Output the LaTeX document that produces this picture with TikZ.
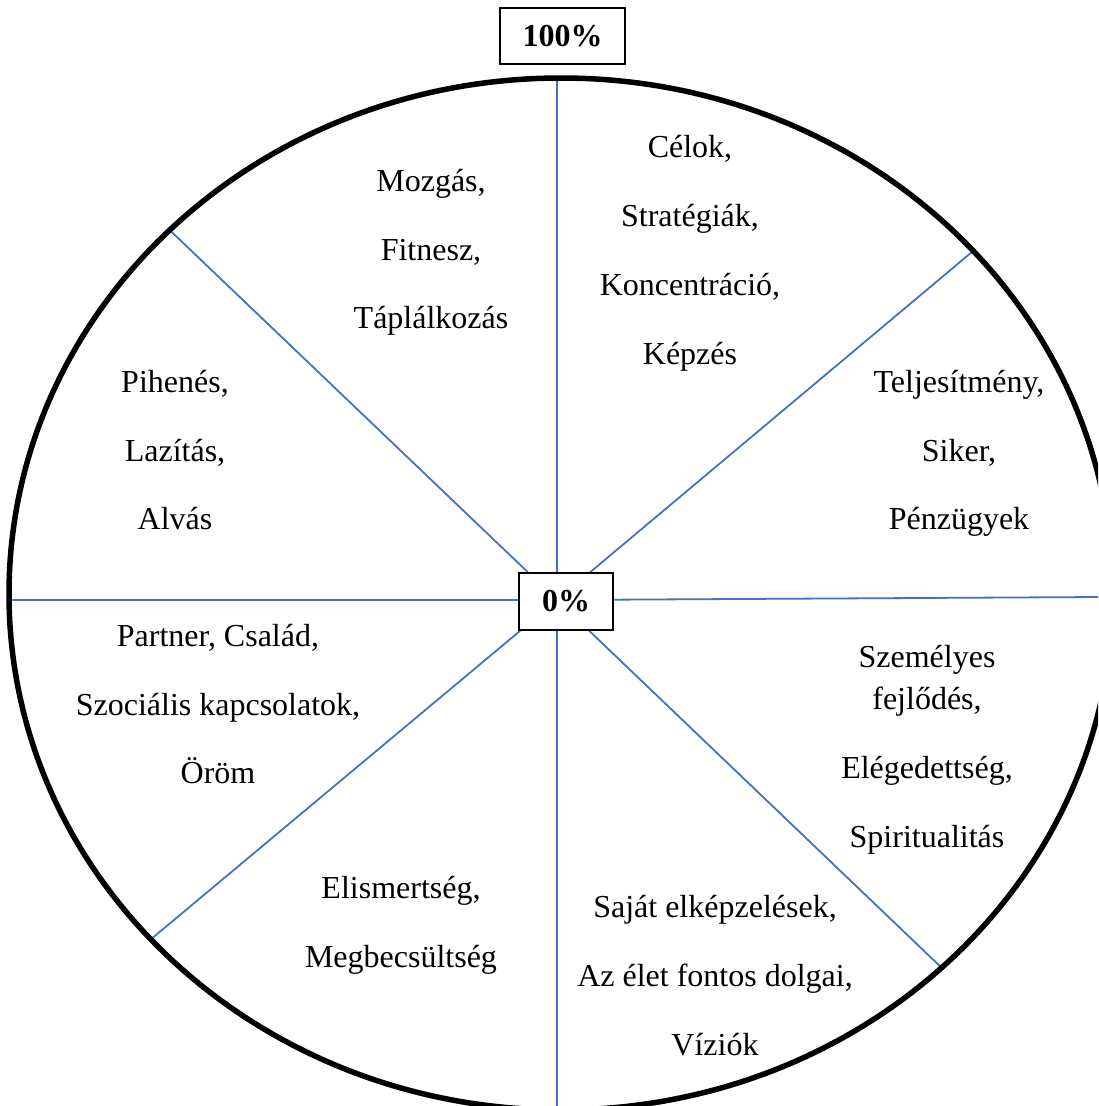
\documentclass[tikz,border=0pt]{standalone}
\usepackage{fontspec}
\setmainfont{Liberation Serif}
\definecolor{spokeblue}{RGB}{68,114,196}
\begin{document}
\begin{tikzpicture}[x=1pt,y=-1pt,
  spoke/.style={draw=spokeblue, line width=1.8pt},
  rim/.style={draw=black, line width=5.5pt},
  lbl/.style={anchor=base, inner sep=0pt, font=\fontsize{32}{38}\selectfont},
  pbox/.style={draw=black, line width=2pt, fill=white, inner sep=0pt,
    font=\fontsize{32}{38}\selectfont\bfseries}]
\useasboundingbox (0,0) rectangle (1098,1106);
\clip (0,0) rectangle (1098,1106);
\fill[white] (0,0) rectangle (1098,1106);
% hub and spoke ends
\coordinate (hub) at (557,600);
\coordinate (eT)  at (557,0);
\coordinate (eUR) at (1053,184);
\coordinate (eR)  at (1100,597);
\coordinate (eLR) at (1013,1036);
\coordinate (eB)  at (557,1200);
\coordinate (eLL) at (71,1006);
\coordinate (eL)  at (0,600);
\coordinate (eUL) at (90,154);
\begin{scope}
  \clip (561,594) ellipse [x radius=550pt, y radius=514pt];
  \foreach \e in {eT,eUR,eR,eLR,eB,eLL,eL,eUL}
    \draw[spoke] (hub) -- (\e);
\end{scope}
\draw[rim] (561,594) ellipse [x radius=552pt, y radius=516pt];
% boxes
\node[pbox, minimum width=125pt, minimum height=56pt] (full) at (562.5,36) {100\%};
\node[pbox, minimum width=94pt, minimum height=57pt] (zero) at (566,601.5) {0\%};
% top right
\node[lbl] (tr1) at (690,157) {Célok,};
\node[lbl] (tr2) at (690,226) {Stratégiák,};
\node[lbl] (tr3) at (690,295) {Koncentráció,};
\node[lbl] (tr4) at (690,364) {Képzés};
% top left
\node[lbl] (tl1) at (431,191) {Mozgás,};
\node[lbl] (tl2) at (431,260) {Fitnesz,};
\node[lbl] (tl3) at (431,328) {Táplálkozás};
% left upper
\node[lbl] (lu1) at (175,392) {Pihenés,};
\node[lbl] (lu2) at (175,461) {Lazítás,};
\node[lbl] (lu3) at (175,529) {Alvás};
% right upper
\node[lbl] (ru1) at (959,392) {Teljesítmény,};
\node[lbl] (ru2) at (959,461) {Siker,};
\node[lbl] (ru3) at (959,529) {Pénzügyek};
% left lower
\node[lbl] (ll1) at (218,646) {Partner, Család,};
\node[lbl] (ll2) at (218,715) {Szociális kapcsolatok,};
\node[lbl] (ll3) at (218,783) {Öröm};
% right lower
\node[lbl] (rl1) at (927,667) {Személyes};
\node[lbl] (rl2) at (927,709) {fejlődés,};
\node[lbl] (rl3) at (927,778) {Elégedettség,};
\node[lbl] (rl4) at (927,847) {Spiritualitás};
% bottom left
\node[lbl] (bl1) at (401,898) {Elismertség,};
\node[lbl] (bl2) at (401,967) {Megbecsültség};
% bottom right
\node[lbl] (br1) at (715,917) {Saját elképzelések,};
\node[lbl] (br2) at (715,986) {Az élet fontos dolgai,};
\node[lbl] (br3) at (715,1055) {Víziók};
\end{tikzpicture}
\end{document}
